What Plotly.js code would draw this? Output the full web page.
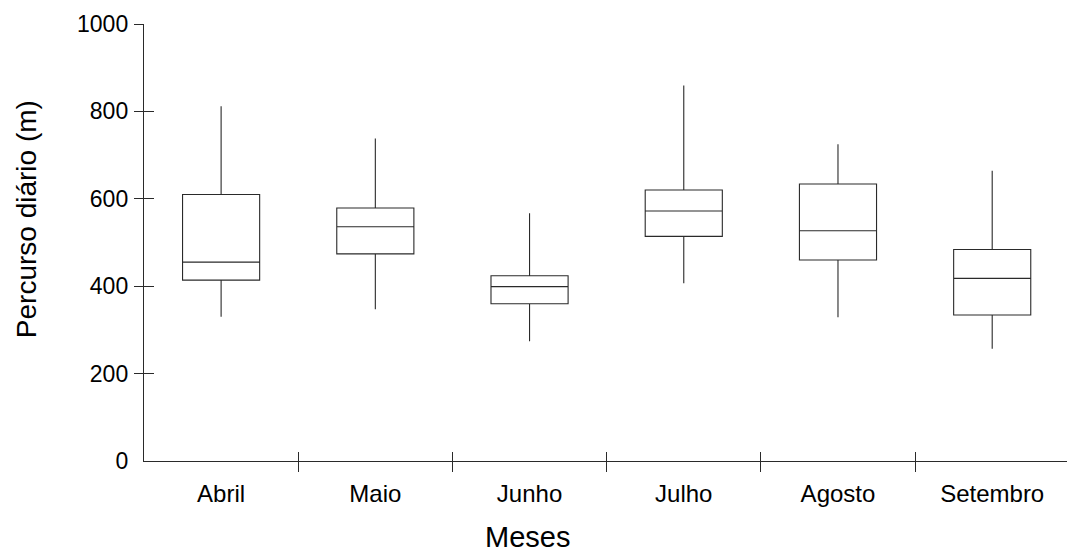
<!DOCTYPE html>
<html>
<head>
<meta charset="utf-8">
<script src="https://cdn.plot.ly/plotly-3.0.1.min.js"></script>
<style>html,body{margin:0;padding:0;background:#fff;}#chart{width:1067px;height:557px;}</style>
</head>
<body>
<div id="chart"></div>
<script>
// Data
const months = ["Abril", "Maio", "Junho", "Julho", "Agosto", "Setembro"];
const upperWhisker = [812, 738, 567, 859, 725, 664];
const q3Values = [610, 579, 424, 620, 634, 484];
const medianValues = [455, 536, 399, 572, 527, 418];
const q1Values = [414, 474, 360, 514, 460, 334];
const lowerWhisker = [330, 347, 274, 407, 329, 257];
const yTickValues = [0, 200, 400, 600, 800, 1000];
const yTickMarks = [200, 400, 600, 800, 1000];
const xTitle = "Meses";
const yTitle = "Percurso diário (m)";

const boundaryTicks = months.slice(1).map((m, i) => i + 0.5);
const xRange = [-0.5, 5.485];
const yRange = [0, 1000];
const font = "Arial, 'Liberation Sans', sans-serif";
const lineCol = "#2a2a2a";

const boxTrace = {
  type: "box",
  x: months,
  q1: q1Values,
  median: medianValues,
  q3: q3Values,
  lowerfence: lowerWhisker,
  upperfence: upperWhisker,
  boxpoints: false,
  width: 0.5,
  whiskerwidth: 0,
  fillcolor: "rgba(255,255,255,0)",
  line: { color: lineCol, width: 1.1 },
  hoverinfo: "skip",
  showlegend: false
};

// empty helper traces so the overlay tick axes get drawn
function helper(xa, ya) {
  return { type: "scatter", mode: "markers", x: [null], y: [null], xaxis: xa, yaxis: ya,
           hoverinfo: "skip", showlegend: false, marker: { opacity: 0 } };
}

const layout = {
  width: 1067,
  height: 557,
  margin: { l: 144, r: 0, t: 24, b: 96 },
  paper_bgcolor: "#fff",
  plot_bgcolor: "rgba(0,0,0,0)",
  font: { family: font, color: "#000" },
  showlegend: false,
  xaxis: {
    type: "category",
    categoryarray: months,
    range: xRange,
    showgrid: false,
    zeroline: false,
    showline: true,
    linecolor: lineCol,
    linewidth: 1.2,
    ticks: "outside",
    ticklen: 11,
    tickcolor: "rgba(0,0,0,0)",
    tickfont: { size: 24, family: font, color: "#000" },
    fixedrange: true
  },
  xaxis2: {
    overlaying: "x",
    anchor: "y",
    type: "linear",
    range: xRange,
    tickvals: boundaryTicks,
    showticklabels: false,
    ticks: "outside",
    ticklen: 10,
    tickwidth: 1,
    tickcolor: lineCol,
    showgrid: false,
    zeroline: false,
    showline: false
  },
  xaxis3: {
    overlaying: "x",
    anchor: "y",
    type: "linear",
    range: xRange,
    tickvals: boundaryTicks,
    showticklabels: false,
    ticks: "inside",
    ticklen: 9,
    tickwidth: 1,
    tickcolor: lineCol,
    showgrid: false,
    zeroline: false,
    showline: false
  },
  yaxis: {
    range: yRange,
    tickvals: yTickValues,
    ticktext: yTickValues.map(String),
    showgrid: false,
    zeroline: false,
    showline: true,
    linecolor: lineCol,
    linewidth: 1.2,
    ticks: "outside",
    ticklen: 10,
    tickcolor: "rgba(0,0,0,0)",
    tickfont: { size: 23, family: font, color: "#000" },
    fixedrange: true
  },
  yaxis2: {
    overlaying: "y",
    anchor: "x",
    side: "left",
    range: yRange,
    tickvals: yTickMarks,
    showticklabels: false,
    ticks: "outside",
    ticklen: 9,
    tickwidth: 1,
    tickcolor: lineCol,
    showgrid: false,
    zeroline: false,
    showline: false
  },
  yaxis3: {
    overlaying: "y",
    anchor: "x",
    side: "left",
    range: yRange,
    tickvals: yTickMarks,
    showticklabels: false,
    ticks: "inside",
    ticklen: 10,
    tickwidth: 1,
    tickcolor: lineCol,
    showgrid: false,
    zeroline: false,
    showline: false
  },
  annotations: [
    {
      text: xTitle,
      xref: "paper", yref: "paper",
      x: 0.415, y: -0.174,
      xanchor: "center", yanchor: "middle",
      showarrow: false,
      font: { size: 29, family: font, color: "#000" }
    },
    {
      text: yTitle,
      xref: "paper", yref: "paper",
      x: -0.128, y: 0.553,
      xanchor: "center", yanchor: "middle",
      textangle: -90,
      showarrow: false,
      font: { size: 28, family: font, color: "#000" }
    }
  ]
};

const traces = [boxTrace, helper("x2", "y"), helper("x3", "y"), helper("x", "y2"), helper("x", "y3")];
Plotly.newPlot("chart", traces, layout, { staticPlot: true, displayModeBar: false });
</script>
</body>
</html>
